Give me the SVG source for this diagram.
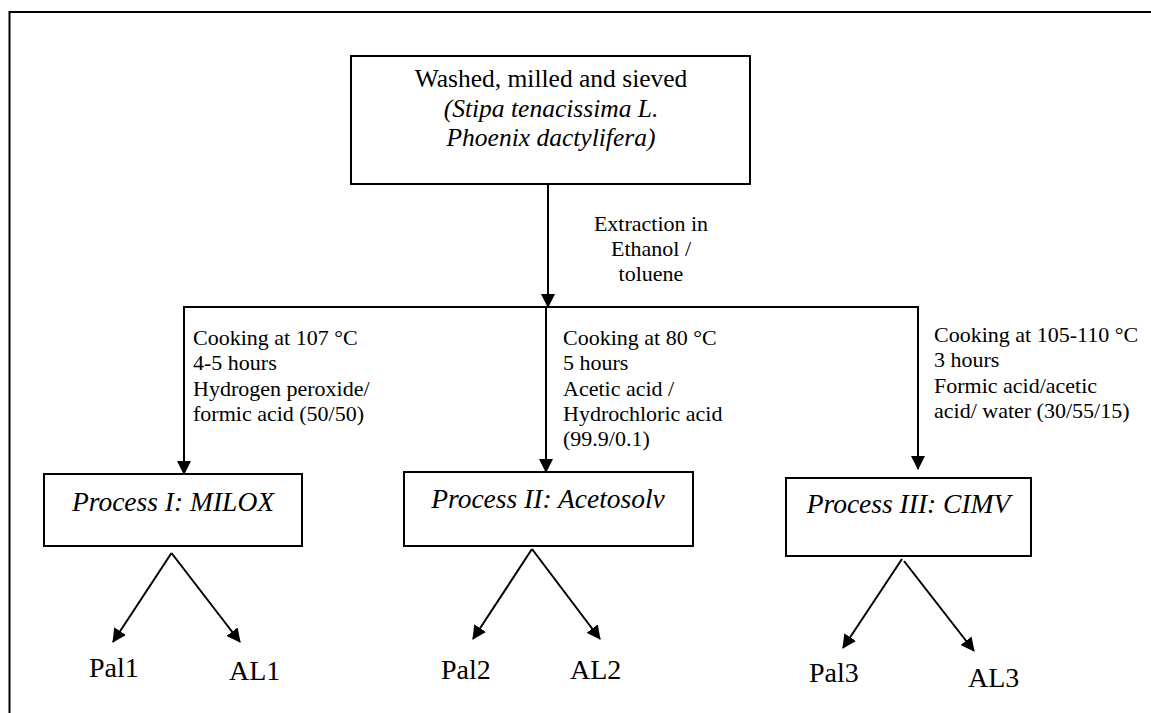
<svg xmlns="http://www.w3.org/2000/svg" width="1151" height="713" viewBox="0 0 1151 713">
<defs>
<style>
.t{font-family:"Liberation Serif","Times New Roman",serif;fill:#000}
.s{font-size:22px}
.m{font-size:25.5px}
.p{font-size:27.5px;font-style:italic}
.o{font-size:28px}
.i{font-style:italic}
.box{fill:#fff;stroke:#000;stroke-width:2}
.ln{fill:none;stroke:#000;stroke-width:2}
</style>
<marker id="ah" markerUnits="userSpaceOnUse" markerWidth="14" markerHeight="14" viewBox="0 0 14 14" refX="13" refY="7" orient="auto">
<path d="M0,0 L14,7 L0,14 z" fill="#000"/>
</marker>
</defs>
<rect width="1151" height="713" fill="#fff"/>
<polyline class="ln" points="9.5,713 9.5,12 1151,12"/>

<g id="connectors">
<line class="ln" x1="548" y1="185" x2="548" y2="307" marker-end="url(#ah)"/>
<line class="ln" x1="183" y1="307" x2="919" y2="307"/>
<line class="ln" x1="184" y1="307" x2="184" y2="474" marker-end="url(#ah)"/>
<line class="ln" x1="546" y1="307" x2="546" y2="472" marker-end="url(#ah)"/>
<line class="ln" x1="918" y1="307" x2="918" y2="469" marker-end="url(#ah)"/>
<line class="ln" x1="171.5" y1="553" x2="113" y2="642" marker-end="url(#ah)"/>
<line class="ln" x1="171.5" y1="553" x2="240" y2="642" marker-end="url(#ah)"/>
<line class="ln" x1="532" y1="549" x2="473" y2="639" marker-end="url(#ah)"/>
<line class="ln" x1="532" y1="549" x2="600" y2="639" marker-end="url(#ah)"/>
<line class="ln" x1="902" y1="559" x2="843" y2="648" marker-end="url(#ah)"/>
<line class="ln" x1="904" y1="561" x2="974" y2="651" marker-end="url(#ah)"/>
</g>

<g id="label-extraction" class="t s" text-anchor="middle">
<text x="651" y="230.5">Extraction in</text>
<text x="651" y="255.8">Ethanol /</text>
<text x="651" y="281">toluene</text>
</g>

<g id="label-cond1" class="t s">
<text x="193" y="345">Cooking at 107 °C</text>
<text x="193" y="370.3">4-5 hours</text>
<text x="193" y="395.6">Hydrogen peroxide/</text>
<text x="193" y="420.9">formic acid (50/50)</text>
</g>

<g id="label-cond2" class="t s">
<text x="563" y="345">Cooking at 80 °C</text>
<text x="563" y="370.3">5 hours</text>
<text x="563" y="395.6">Acetic acid /</text>
<text x="563" y="420.9">Hydrochloric acid</text>
<text x="563" y="446.2">(99.9/0.1)</text>
</g>

<g id="label-cond3" class="t s">
<text x="934" y="342">Cooking at 105-110 °C</text>
<text x="934" y="367.3">3 hours</text>
<text x="934" y="392.6">Formic acid/acetic</text>
<text x="934" y="417.9">acid/ water (30/55/15)</text>
</g>

<g id="node-start">
<rect class="box" x="351" y="56" width="399" height="128"/>
<g class="t m" text-anchor="middle">
<text x="551" y="87">Washed, milled and sieved</text>
<text x="551" y="116.5" class="i">(Stipa tenacissima L.</text>
<text x="551" y="146" class="i">Phoenix dactylifera)</text>
</g>
</g>

<g id="node-p1">
<rect class="box" x="44" y="474" width="258" height="72"/>
<text class="t p" x="173" y="510.5" text-anchor="middle">Process I: MILOX</text>
</g>
<g id="node-p2">
<rect class="box" x="404" y="472" width="289" height="74"/>
<text class="t p" x="548" y="508.3" text-anchor="middle">Process II: Acetosolv</text>
</g>
<g id="node-p3">
<rect class="box" x="786" y="478" width="245" height="78"/>
<text class="t p" x="908.5" y="513.3" text-anchor="middle">Process III: CIMV</text>
</g>

<g id="node-pal1"><text class="t o" x="89" y="677">Pal1</text></g>
<g id="node-al1"><text class="t o" x="229" y="680">AL1</text></g>
<g id="node-pal2"><text class="t o" x="441" y="679">Pal2</text></g>
<g id="node-al2"><text class="t o" x="570" y="679">AL2</text></g>
<g id="node-pal3"><text class="t o" x="809" y="682">Pal3</text></g>
<g id="node-al3"><text class="t o" x="968" y="687">AL3</text></g>
</svg>
